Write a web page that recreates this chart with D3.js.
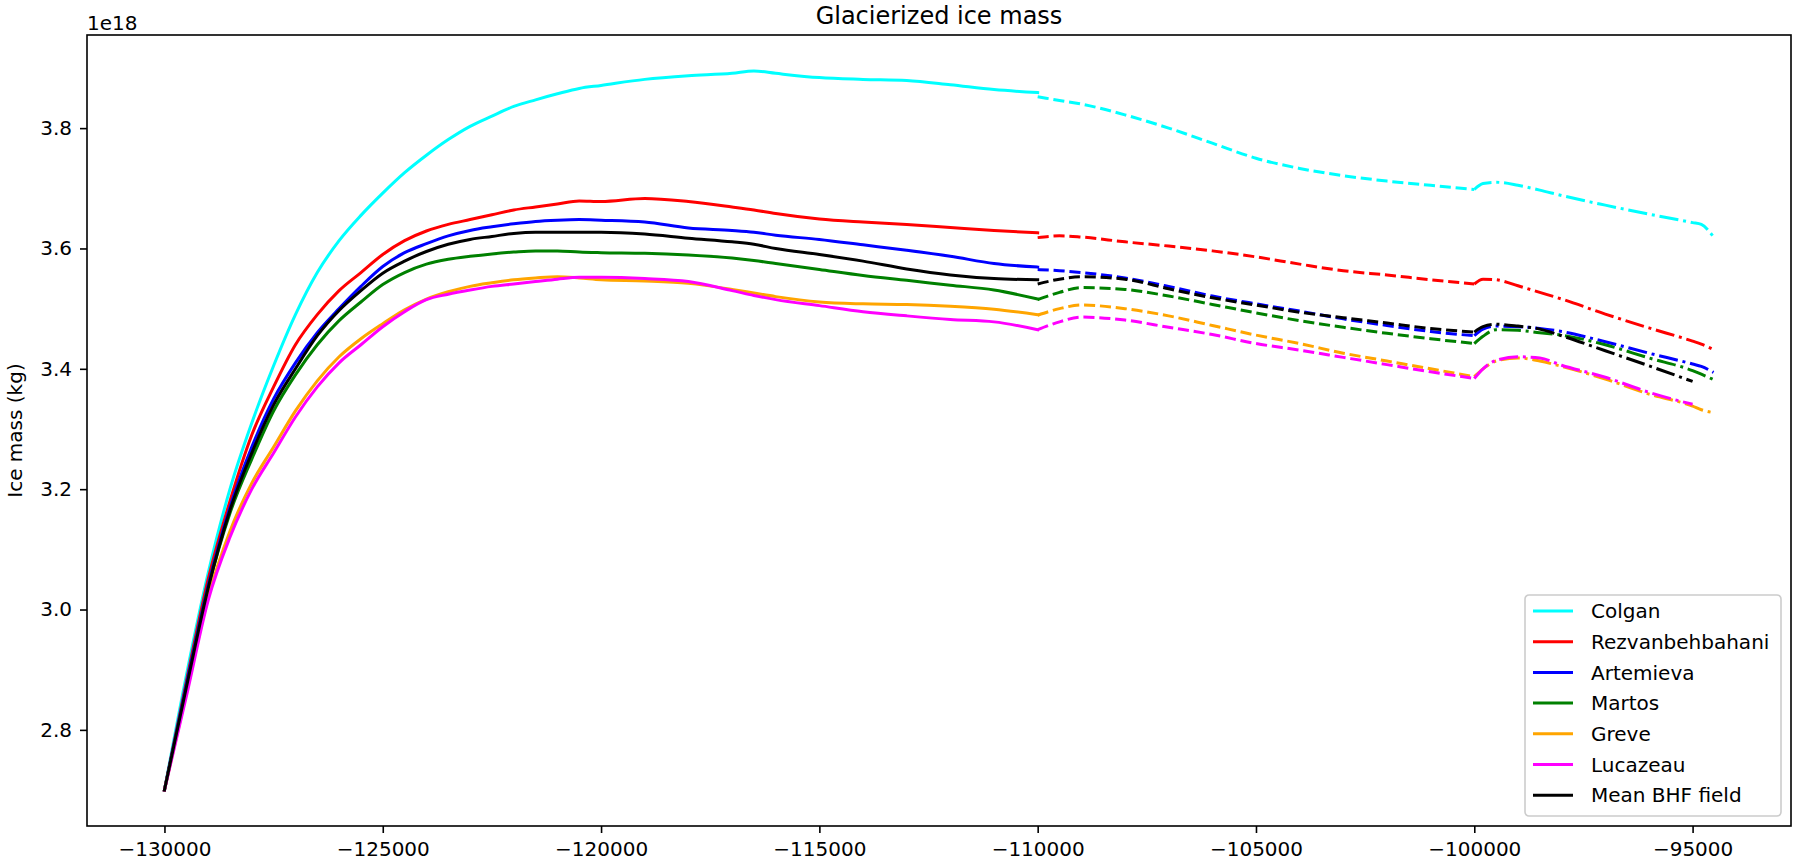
<!DOCTYPE html>
<html>
<head>
<meta charset="utf-8">
<script src="https://cdnjs.cloudflare.com/ajax/libs/d3/7.8.5/d3.min.js"></script>
<style>
  body { margin: 0; background: #fff; }
  text { font-family: "DejaVu Sans", sans-serif; fill: #000; }
</style>
</head>
<body>
<div id="chart"></div>
<script>
// sample years for the three phases (solid / dashed / dash-dot)
var solidYears = [-130000, -129500, -129000, -128500, -128000, -127500, -127000, -126500, -126000, -125500,
    -125000, -124500, -124000, -123500, -123000, -122500, -122000, -121500, -121000, -120500,
    -120000, -119000, -118000, -117000, -116500, -116000, -115000, -114000, -113000, -112000, -111000, -110000];
var dashedYears = [-110000, -109500, -109000, -108000, -107000, -106000, -105000, -104000, -103000, -102000, -101000, -100000];
var dashdotYears = [-100000, -99800, -99500, -99000, -98500, -98000, -97000, -96000, -95000, -94800, -94520];

// ice mass in units of 1e18 kg
var colganSolid = [2.700, 2.890, 3.060, 3.200, 3.310, 3.405, 3.490, 3.560, 3.613, 3.655,
    3.692, 3.726, 3.755, 3.781, 3.803, 3.820, 3.836, 3.847, 3.857, 3.866,
    3.871, 3.881, 3.887, 3.891, 3.895, 3.891, 3.884, 3.881, 3.879, 3.872, 3.864, 3.859];
var colganDashed = [3.852, 3.846, 3.840, 3.822, 3.800, 3.775, 3.750, 3.733, 3.721, 3.712, 3.705, 3.698];
var colganDashdot = [3.698, 3.708, 3.710, 3.705, 3.697, 3.688, 3.672, 3.657, 3.643, 3.640, 3.619];

var rezvanSolid = [2.700, 2.880, 3.050, 3.180, 3.290, 3.370, 3.440, 3.490, 3.530, 3.560,
    3.590, 3.613, 3.629, 3.640, 3.648, 3.656, 3.664, 3.669, 3.674, 3.679,
    3.678, 3.683, 3.678, 3.669, 3.664, 3.658, 3.649, 3.644, 3.640, 3.635, 3.630, 3.626];
var rezvanDashed = [3.618, 3.621, 3.619, 3.611, 3.604, 3.596, 3.586, 3.574, 3.563, 3.556, 3.548, 3.541];
var rezvanDashdot = [3.541, 3.549, 3.548, 3.538, 3.527, 3.516, 3.491, 3.468, 3.446, 3.441, 3.432];

var artemSolid = [2.700, 2.875, 3.040, 3.170, 3.270, 3.350, 3.410, 3.460, 3.500, 3.537,
    3.570, 3.593, 3.608, 3.621, 3.630, 3.636, 3.641, 3.645, 3.647, 3.648,
    3.647, 3.644, 3.634, 3.630, 3.627, 3.622, 3.615, 3.606, 3.597, 3.587, 3.575, 3.569];
var artemDashed = [3.565, 3.563, 3.560, 3.551, 3.537, 3.521, 3.508, 3.496, 3.483, 3.472, 3.462, 3.455];
var artemDashdot = [3.455, 3.466, 3.471, 3.470, 3.467, 3.462, 3.445, 3.426, 3.408, 3.404, 3.394];

var martosSolid = [2.700, 2.868, 3.035, 3.160, 3.250, 3.330, 3.390, 3.440, 3.480, 3.511,
    3.540, 3.560, 3.574, 3.582, 3.587, 3.591, 3.594, 3.596, 3.596, 3.594,
    3.593, 3.592, 3.589, 3.584, 3.580, 3.575, 3.565, 3.555, 3.547, 3.539, 3.531, 3.516];
var martosDashed = [3.515, 3.527, 3.535, 3.532, 3.521, 3.507, 3.493, 3.480, 3.469, 3.459, 3.450, 3.442];
var martosDashdot = [3.442, 3.454, 3.465, 3.464, 3.460, 3.456, 3.440, 3.418, 3.397, 3.391, 3.382];

var greveSolid = [2.700, 2.860, 3.020, 3.130, 3.210, 3.270, 3.330, 3.380, 3.420, 3.450,
    3.475, 3.498, 3.516, 3.528, 3.537, 3.543, 3.548, 3.551, 3.553, 3.551,
    3.548, 3.546, 3.542, 3.532, 3.526, 3.520, 3.511, 3.508, 3.507, 3.504, 3.499, 3.490];
var greveDashed = [3.489, 3.500, 3.506, 3.500, 3.488, 3.472, 3.456, 3.442, 3.426, 3.413, 3.400, 3.387];
var greveDashdot = [3.387, 3.400, 3.413, 3.418, 3.413, 3.404, 3.383, 3.358, 3.338, 3.332, 3.327];

var lucaSolid = [2.700, 2.855, 3.015, 3.120, 3.200, 3.260, 3.320, 3.370, 3.410, 3.440,
    3.470, 3.495, 3.515, 3.524, 3.531, 3.537, 3.541, 3.545, 3.549, 3.552,
    3.552, 3.550, 3.545, 3.530, 3.522, 3.515, 3.505, 3.495, 3.488, 3.482, 3.478, 3.465];
var lucaDashed = [3.465, 3.478, 3.486, 3.481, 3.469, 3.457, 3.442, 3.431, 3.419, 3.407, 3.395, 3.384];
var lucaDashdot = [3.384, 3.400, 3.414, 3.420, 3.418, 3.406, 3.386, 3.361, 3.341, null, null];

var meanSolid = [2.700, 2.870, 3.035, 3.165, 3.260, 3.340, 3.400, 3.455, 3.497, 3.530,
    3.559, 3.579, 3.595, 3.607, 3.615, 3.620, 3.625, 3.627, 3.627, 3.627,
    3.627, 3.624, 3.617, 3.611, 3.607, 3.600, 3.590, 3.579, 3.566, 3.556, 3.550, 3.548];
var meanDashed = [3.541, 3.549, 3.553, 3.549, 3.533, 3.518, 3.506, 3.494, 3.485, 3.476, 3.467, 3.461];
var meanDashdot = [3.461, 3.470, 3.474, 3.471, 3.466, 3.455, 3.430, 3.405, 3.379, null, null];

var seriesNames = ["Colgan", "Rezvanbehbahani", "Artemieva", "Martos", "Greve", "Lucazeau", "Mean BHF field"];
var seriesColors = ["#00ffff", "#ff0000", "#0000ff", "#008000", "#ffa500", "#ff00ff", "#000000"];

var xTicks = d3.range(-130000, -94999, 5000);
var yTicks = [2.8, 3.0, 3.2, 3.4, 3.6, 3.8];

// plot table built from the arrays above
var allSeries = [
    [colganSolid, colganDashed, colganDashdot],
    [rezvanSolid, rezvanDashed, rezvanDashdot],
    [artemSolid, artemDashed, artemDashdot],
    [martosSolid, martosDashed, martosDashdot],
    [greveSolid, greveDashed, greveDashdot],
    [lucaSolid, lucaDashed, lucaDashdot],
    [meanSolid, meanDashed, meanDashdot]
];
var phaseYears = [solidYears, dashedYears, dashdotYears];
var phaseDash = [null, "11.1,4.8", "19.2,4.8,3,4.8"];

var svgWidth = 1793;
var svgHeight = 865;
var margin = {top: 35, right: 2, bottom: 39, left: 87};
var width = svgWidth - margin.left - margin.right;
var height = svgHeight - margin.top - margin.bottom;

var svg = d3.select("#chart")
    .append("svg")
    .attr("width", svgWidth)
    .attr("height", svgHeight);

var chartGroup = svg.append("g")
    .attr("transform", `translate(${margin.left},${margin.top})`);

// scales: data extent plus 5% padding like matplotlib
var allYears = solidYears.concat(dashedYears, dashdotYears);
var allValues = [];
allSeries.forEach(function(s) {
    s.forEach(function(p) { p.forEach(function(v) { if (v != null) allValues.push(v); }); });
});
var xExt = d3.extent(allYears);
var yExt = d3.extent(allValues);
var xPad = (xExt[1] - xExt[0]) * 0.05;
var yPad = (yExt[1] - yExt[0]) * 0.05;

var xLinearScale = d3.scaleLinear()
    .domain([xExt[0] - xPad, xExt[1] + xPad])
    .range([0, width]);
var yLinearScale = d3.scaleLinear()
    .domain([yExt[0] - yPad, yExt[1] + yPad])
    .range([height, 0]);

// axes
var bottomAxis = d3.axisBottom(xLinearScale)
    .tickValues(xTicks)
    .tickFormat(d3.format("d"))
    .tickSizeInner(7)
    .tickSizeOuter(0)
    .tickPadding(9);
var leftAxis = d3.axisLeft(yLinearScale)
    .tickValues(yTicks)
    .tickFormat(d3.format(".1f"))
    .tickSizeInner(7)
    .tickSizeOuter(0)
    .tickPadding(8);

var xAxis = chartGroup.append("g")
    .attr("transform", `translate(0,${height})`)
    .call(bottomAxis);
var yAxis = chartGroup.append("g")
    .call(leftAxis);

[xAxis, yAxis].forEach(function(a) {
    a.select(".domain").remove();
    a.selectAll(".tick line").attr("stroke", "#000").attr("stroke-width", 1.6);
    a.selectAll(".tick text").attr("font-size", 20).attr("font-family", "DejaVu Sans").attr("fill", "#000");
});

// lines
var lineGen = d3.line()
    .defined(d => d[1] != null)
    .curve(d3.curveMonotoneX)
    .x(d => xLinearScale(d[0]))
    .y(d => yLinearScale(d[1]));

var linesGroup = chartGroup.append("g");
allSeries.forEach(function(s, i) {
    s.forEach(function(vals, p) {
        var pts = phaseYears[p].map((yr, k) => [yr, vals[k]]);
        linesGroup.append("path")
            .datum(pts)
            .attr("d", lineGen)
            .attr("fill", "none")
            .attr("stroke", seriesColors[i])
            .attr("stroke-width", 3)
            .attr("stroke-linejoin", "round")
            .attr("stroke-linecap", p == 0 ? "square" : "butt")
            .attr("stroke-dasharray", phaseDash[p]);
    });
});

// frame (spines)
chartGroup.append("rect")
    .attr("x", 0)
    .attr("y", 0)
    .attr("width", width)
    .attr("height", height)
    .attr("fill", "none")
    .attr("stroke", "#000")
    .attr("stroke-width", 1.6);

// title, offset text, y label
svg.append("text")
    .attr("x", margin.left + width / 2)
    .attr("y", 24)
    .attr("text-anchor", "middle")
    .attr("font-size", 24)
    .text("Glacierized ice mass");

svg.append("text")
    .attr("x", margin.left)
    .attr("y", 30)
    .attr("font-size", 20)
    .text("1e18");

svg.append("text")
    .attr("transform", `translate(22,${margin.top + height / 2}) rotate(-90)`)
    .attr("text-anchor", "middle")
    .attr("font-size", 20)
    .text("Ice mass (kg)");

// legend, lower right
var legendW = 256, legendH = 221;
var legendGroup = chartGroup.append("g")
    .attr("transform", `translate(${width - 10 - legendW},${height - 10 - legendH})`);

legendGroup.append("rect")
    .attr("width", legendW)
    .attr("height", legendH)
    .attr("rx", 4)
    .attr("fill", "#fff")
    .attr("fill-opacity", 0.8)
    .attr("stroke", "#cccccc")
    .attr("stroke-width", 1.6);

seriesNames.forEach(function(name, i) {
    var cy = 16 + i * 30.7;
    legendGroup.append("line")
        .attr("x1", 8)
        .attr("x2", 48)
        .attr("y1", cy)
        .attr("y2", cy)
        .attr("stroke", seriesColors[i])
        .attr("stroke-width", 3);
    legendGroup.append("text")
        .attr("x", 66)
        .attr("y", cy)
        .attr("dy", "0.36em")
        .attr("font-size", 20)
        .text(name);
});
</script>
</body>
</html>
